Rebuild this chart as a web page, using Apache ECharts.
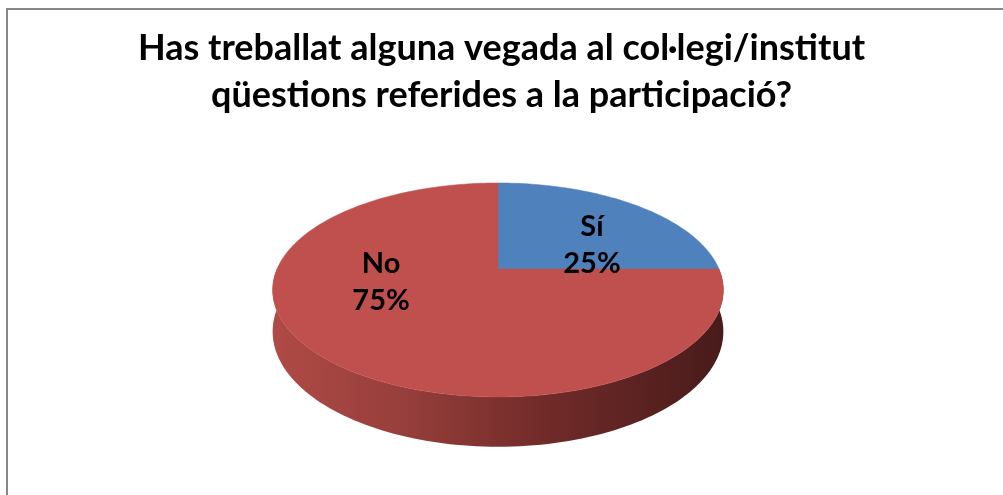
<!DOCTYPE html>
<html><head><meta charset="utf-8">
<script src="https://cdn.jsdelivr.net/npm/echarts@6/dist/echarts.min.js"></script>
<style>html,body{margin:0;padding:0;background:#fff}#c{width:1003px;height:495px}</style>
</head><body><div id="c"></div>
<script>
// ---- data ----
const titleLines = ['Has treballat alguna vegada al col·legi/institut', 'qüestions referides a la participació?'];
const categories = ['Sí', 'No'];
const values = [25, 75];
const colors = ['#4F81BD', '#C0504D'];

// ---- geometry / style (perspective 3D pie) ----
const GEO = {cx: 498, cy: 269, A: 221, B: 102.9, p: 0.196, D: 40};
const LABEL_ANCHOR = [[0.446, 0.25], [-0.517, -0.119]]; // in unit-disc coords (u right, v far)
const FONT = 'Lato, "Liberation Sans", sans-serif';

const total = values.reduce((a, b) => a + b, 0);
const cum = [0];
values.forEach(v => cum.push(cum[cum.length - 1] + v));

function proj(u, v, down) {
  const s = 1 + GEO.p * v;
  return [GEO.cx + GEO.A * u / s, GEO.cy - GEO.B * v / s + (down ? GEO.D / s : 0)];
}
function rimPoint(deg, down) {
  const r = deg * Math.PI / 180;
  return proj(Math.sin(r), Math.cos(r), down);
}
function arc(a0, a1, down, api) {
  const n = Math.max(2, Math.ceil(Math.abs(a1 - a0) / 1.5));
  const pts = [];
  for (let k = 0; k <= n; k++) pts.push(api.coord(rimPoint(a0 + (a1 - a0) * k / n, down)));
  return pts;
}

function renderSide(params, api) {
  const i = params.dataIndex;
  const a0 = cum[i] / total * 360, a1 = cum[i + 1] / total * 360;
  const lo = Math.max(a0, 90), hi = Math.min(a1, 270);
  if (hi <= lo) return null;
  const top = arc(lo, hi, false, api);
  const bot = arc(hi, lo, true, api);
  const left = api.coord([GEO.cx - GEO.A * 1.03, GEO.cy])[0];
  const right = api.coord([GEO.cx + GEO.A * 1.03, GEO.cy])[0];
  return {
    type: 'polygon',
    shape: {points: top.concat(bot)},
    style: {
      fill: {type: 'linear', x: left, y: 0, x2: right, y2: 0, global: true,
        colorStops: [{offset: 0, color: '#B04A46'}, {offset: 0.3, color: '#963E3B'},
                     {offset: 0.6, color: '#712B29'}, {offset: 1, color: '#471B1A'}]},
      stroke: null
    }
  };
}

function renderTop(params, api) {
  const i = params.dataIndex;
  const a0 = cum[i] / total * 360, a1 = cum[i + 1] / total * 360;
  const pts = [api.coord(proj(0, 0, false))].concat(arc(a0, a1, false, api));
  return {type: 'polygon', shape: {points: pts}, style: {fill: colors[i], stroke: colors[i], lineWidth: 0.5}};
}

function renderLabel(params, api) {
  const i = params.dataIndex;
  const pct = Math.round(values[i] / total * 100) + '%';
  const c = api.coord(proj(LABEL_ANCHOR[i][0], LABEL_ANCHOR[i][1], false));
  return {
    type: 'text',
    x: c[0], y: c[1] + 1,
    style: {text: categories[i] + '\n' + pct, fill: '#000', font: 'bold 29px ' + FONT,
      align: 'center', verticalAlign: 'middle', lineHeight: 37}
  };
}

const data = values.map((v, i) => [i, v]);
const chart = echarts.init(document.getElementById('c'), null, {renderer: 'canvas'});
chart.setOption({
  animation: false,
  backgroundColor: '#fff',
  title: {
    text: titleLines.join('\n'), left: 'center', top: 20,
    textStyle: {fontFamily: FONT, fontWeight: 'bold', fontSize: 36, lineHeight: 47, color: '#000'}
  },
  graphic: [{type: 'rect', shape: {x: 7, y: 9, width: 1100, height: 600},
    style: {fill: 'none', stroke: '#878787', lineWidth: 2}, silent: true}],
  grid: {left: 0, right: 0, top: 0, bottom: 0},
  xAxis: {type: 'value', min: 0, max: 1003, show: false},
  yAxis: {type: 'value', min: 0, max: 495, inverse: true, show: false},
  series: [
    {type: 'custom', name: 'side', data: data, renderItem: renderSide, clip: false, z: 1, silent: true},
    {type: 'custom', name: 'top', data: data, renderItem: renderTop, clip: false, z: 2},
    {type: 'custom', name: 'labels', data: data, renderItem: renderLabel, clip: false, z: 3, silent: true}
  ]
});
</script></body></html>
